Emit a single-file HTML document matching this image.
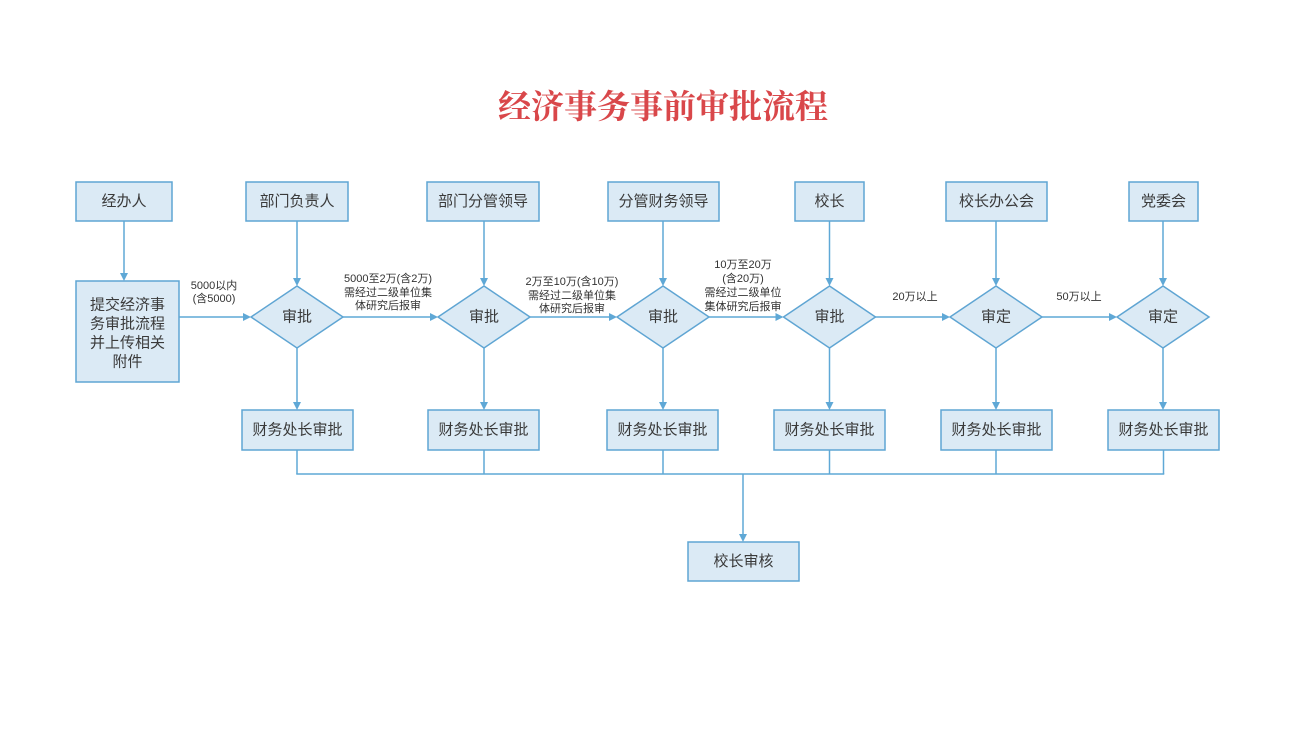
<!DOCTYPE html>
<html><head><meta charset="utf-8"><style>
html,body{margin:0;padding:0;background:#fff;}
svg{display:block;}
.bx{fill:#dbeaf5;stroke:#5fa5d3;stroke-width:1.5;}
.ln{stroke:#5fa8d6;stroke-width:1.5;fill:none;}
.ah{fill:#5fa8d6;}
.t{font-family:"Liberation Sans","Noto Sans CJK SC",sans-serif;font-size:15px;fill:#3a3a3a;text-anchor:middle;dominant-baseline:central;}
.s{font-family:"Liberation Sans","Noto Sans CJK SC",sans-serif;font-size:11px;fill:#333;text-anchor:middle;dominant-baseline:central;}
.title{font-family:"Liberation Serif","Noto Serif CJK SC",serif;font-size:33px;font-weight:bold;fill:#d9474a;text-anchor:middle;dominant-baseline:central;}
</style></head><body>
<svg width="1296" height="729" viewBox="0 0 1296 729" xmlns="http://www.w3.org/2000/svg">
<rect width="1296" height="729" fill="#fff"/>
<text class="title" x="663" y="108">经济事务事前审批流程</text>

<!-- top boxes -->
<rect class="bx" x="76" y="182" width="96" height="39"/>
<text class="t" x="124" y="201.5">经办人</text>
<rect class="bx" x="246" y="182" width="102" height="39"/>
<text class="t" x="297" y="201.5">部门负责人</text>
<rect class="bx" x="427" y="182" width="112" height="39"/>
<text class="t" x="483" y="201.5">部门分管领导</text>
<rect class="bx" x="608" y="182" width="111" height="39"/>
<text class="t" x="663.5" y="201.5">分管财务领导</text>
<rect class="bx" x="795" y="182" width="69" height="39"/>
<text class="t" x="829.5" y="201.5">校长</text>
<rect class="bx" x="946" y="182" width="101" height="39"/>
<text class="t" x="996.5" y="201.5">校长办公会</text>
<rect class="bx" x="1129" y="182" width="69" height="39"/>
<text class="t" x="1163.5" y="201.5">党委会</text>

<!-- submit box -->
<rect class="bx" x="76" y="281" width="103" height="101"/>
<text class="t" x="127.5" y="305">提交经济事</text>
<text class="t" x="127.5" y="324">务审批流程</text>
<text class="t" x="127.5" y="343">并上传相关</text>
<text class="t" x="127.5" y="362">附件</text>

<!-- vertical arrows top -->
<line class="ln" x1="124" y1="221" x2="124" y2="274"/>
<polygon class="ah" points="120,273 128,273 124,281"/>
<line class="ln" x1="297" y1="221" x2="297" y2="279"/>
<polygon class="ah" points="293,278 301,278 297,286"/>
<line class="ln" x1="484" y1="221" x2="484" y2="279"/>
<polygon class="ah" points="480,278 488,278 484,286"/>
<line class="ln" x1="663" y1="221" x2="663" y2="279"/>
<polygon class="ah" points="659,278 667,278 663,286"/>
<line class="ln" x1="829.5" y1="221" x2="829.5" y2="279"/>
<polygon class="ah" points="825.5,278 833.5,278 829.5,286"/>
<line class="ln" x1="996" y1="221" x2="996" y2="279"/>
<polygon class="ah" points="992,278 1000,278 996,286"/>
<line class="ln" x1="1163" y1="221" x2="1163" y2="279"/>
<polygon class="ah" points="1159,278 1167,278 1163,286"/>

<!-- diamonds -->
<polygon class="bx" points="297,286 343,317 297,348 251,317"/>
<text class="t" x="297" y="317">审批</text>
<polygon class="bx" points="484,286 530,317 484,348 438,317"/>
<text class="t" x="484" y="317">审批</text>
<polygon class="bx" points="663,286 709,317 663,348 617,317"/>
<text class="t" x="663" y="317">审批</text>
<polygon class="bx" points="829.5,286 875.5,317 829.5,348 783.5,317"/>
<text class="t" x="829.5" y="317">审批</text>
<polygon class="bx" points="996,286 1042,317 996,348 950,317"/>
<text class="t" x="996" y="317">审定</text>
<polygon class="bx" points="1163,286 1209,317 1163,348 1117,317"/>
<text class="t" x="1163" y="317">审定</text>

<!-- horizontal arrows -->
<line class="ln" x1="179" y1="317" x2="244" y2="317"/>
<polygon class="ah" points="243,313 243,321 251,317"/>
<line class="ln" x1="343" y1="317" x2="431" y2="317"/>
<polygon class="ah" points="430,313 430,321 438,317"/>
<line class="ln" x1="530" y1="317" x2="610" y2="317"/>
<polygon class="ah" points="609,313 609,321 617,317"/>
<line class="ln" x1="709" y1="317" x2="776.5" y2="317"/>
<polygon class="ah" points="775.5,313 775.5,321 783.5,317"/>
<line class="ln" x1="875.5" y1="317" x2="943" y2="317"/>
<polygon class="ah" points="942,313 942,321 950,317"/>
<line class="ln" x1="1042" y1="317" x2="1110" y2="317"/>
<polygon class="ah" points="1109,313 1109,321 1117,317"/>

<!-- edge labels -->
<text class="s" x="214" y="286">5000以内</text>
<text class="s" x="214" y="299">(含5000)</text>
<text class="s" x="388" y="279">5000至2万(含2万)</text>
<text class="s" x="388" y="293">需经过二级单位集</text>
<text class="s" x="388" y="306">体研究后报审</text>
<text class="s" x="572" y="282">2万至10万(含10万)</text>
<text class="s" x="572" y="296">需经过二级单位集</text>
<text class="s" x="572" y="309">体研究后报审</text>
<text class="s" x="743" y="265">10万至20万</text>
<text class="s" x="743" y="279">(含20万)</text>
<text class="s" x="743" y="293">需经过二级单位</text>
<text class="s" x="743" y="307">集体研究后报审</text>
<text class="s" x="915" y="297">20万以上</text>
<text class="s" x="1079" y="297">50万以上</text>

<!-- diamond to bottom boxes -->
<line class="ln" x1="297" y1="348" x2="297" y2="403"/>
<polygon class="ah" points="293,402 301,402 297,410"/>
<line class="ln" x1="484" y1="348" x2="484" y2="403"/>
<polygon class="ah" points="480,402 488,402 484,410"/>
<line class="ln" x1="663" y1="348" x2="663" y2="403"/>
<polygon class="ah" points="659,402 667,402 663,410"/>
<line class="ln" x1="829.5" y1="348" x2="829.5" y2="403"/>
<polygon class="ah" points="825.5,402 833.5,402 829.5,410"/>
<line class="ln" x1="996" y1="348" x2="996" y2="403"/>
<polygon class="ah" points="992,402 1000,402 996,410"/>
<line class="ln" x1="1163" y1="348" x2="1163" y2="403"/>
<polygon class="ah" points="1159,402 1167,402 1163,410"/>

<!-- bottom boxes -->
<rect class="bx" x="242" y="410" width="111" height="40"/>
<text class="t" x="297.5" y="430">财务处长审批</text>
<rect class="bx" x="428" y="410" width="111" height="40"/>
<text class="t" x="483.5" y="430">财务处长审批</text>
<rect class="bx" x="607" y="410" width="111" height="40"/>
<text class="t" x="662.5" y="430">财务处长审批</text>
<rect class="bx" x="774" y="410" width="111" height="40"/>
<text class="t" x="829.5" y="430">财务处长审批</text>
<rect class="bx" x="941" y="410" width="111" height="40"/>
<text class="t" x="996.5" y="430">财务处长审批</text>
<rect class="bx" x="1108" y="410" width="111" height="40"/>
<text class="t" x="1163.5" y="430">财务处长审批</text>

<!-- bus -->
<line class="ln" x1="297" y1="450" x2="297" y2="474"/>
<line class="ln" x1="484" y1="450" x2="484" y2="474"/>
<line class="ln" x1="663" y1="450" x2="663" y2="474"/>
<line class="ln" x1="829.5" y1="450" x2="829.5" y2="474"/>
<line class="ln" x1="996" y1="450" x2="996" y2="474"/>
<line class="ln" x1="1163.5" y1="450" x2="1163.5" y2="474"/>
<line class="ln" x1="296.25" y1="474" x2="1164.25" y2="474"/>
<line class="ln" x1="743" y1="474" x2="743" y2="535"/>
<polygon class="ah" points="739,534 747,534 743,542"/>

<rect class="bx" x="688" y="542" width="111" height="39"/>
<text class="t" x="743.5" y="561.5">校长审核</text>
</svg>
</body></html>
